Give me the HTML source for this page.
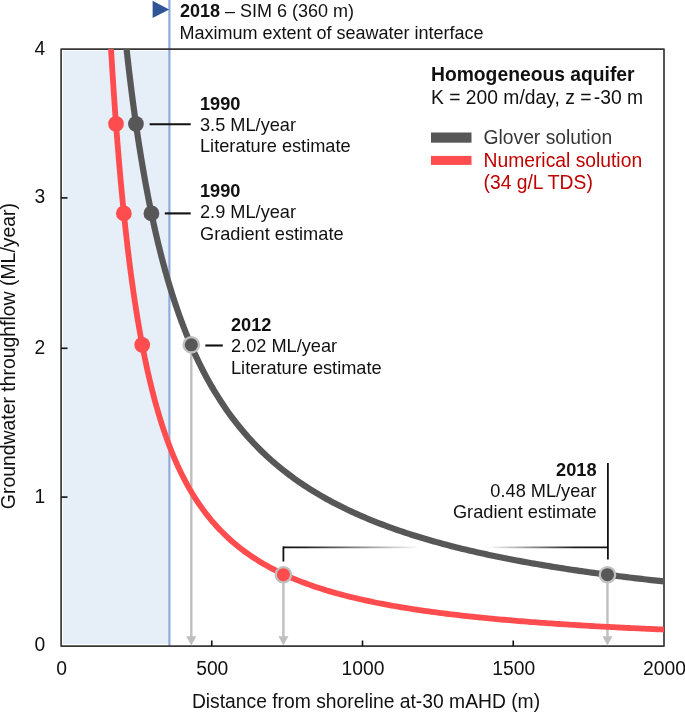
<!DOCTYPE html>
<html><head><meta charset="utf-8"><style>html,body{margin:0;padding:0;background:#fff;overflow:hidden}svg{display:block;will-change:transform}</style></head>
<body><svg width="685" height="712" viewBox="0 0 685 712"><defs><clipPath id="pc"><rect x="61" y="49" width="603" height="597"/></clipPath><linearGradient id="bg" x1="283.4" y1="0" x2="607.9" y2="0" gradientUnits="userSpaceOnUse"><stop offset="0" stop-color="#111" stop-opacity="1"/><stop offset="0.06" stop-color="#111" stop-opacity="0.95"/><stop offset="0.42" stop-color="#111" stop-opacity="0"/><stop offset="0.63" stop-color="#111" stop-opacity="0"/><stop offset="0.9" stop-color="#111" stop-opacity="0.95"/><stop offset="1" stop-color="#111" stop-opacity="1"/></linearGradient></defs><rect width="685" height="712" fill="#fff"/><rect x="63" y="51" width="105.5" height="593" fill="#E6EEF8"/><line x1="169.4" y1="0" x2="169.4" y2="646" stroke="#8EA9DB" stroke-width="2.2"/><polygon points="152.6,0.8 152.6,18.1 169.2,9.45" fill="#2F5597"/><rect x="61.1" y="49.05" width="602.9" height="597" fill="none" stroke="#383838" stroke-width="1.7" stroke-linejoin="round"/><line x1="61" y1="497.10" x2="67.5" y2="497.10" stroke="#111" stroke-width="1.6"/><line x1="61" y1="348.30" x2="67.5" y2="348.30" stroke="#111" stroke-width="1.6"/><line x1="61" y1="197.90" x2="67.5" y2="197.90" stroke="#111" stroke-width="1.6"/><line x1="211.75" y1="646" x2="211.75" y2="640.5" stroke="#111" stroke-width="1.6"/><line x1="362.50" y1="646" x2="362.50" y2="640.5" stroke="#111" stroke-width="1.6"/><line x1="513.25" y1="646" x2="513.25" y2="640.5" stroke="#111" stroke-width="1.6"/><line x1="283.4" y1="547.3" x2="607.9" y2="547.3" stroke="url(#bg)" stroke-width="1.8"/><line x1="283.4" y1="546.4" x2="283.4" y2="561.5" stroke="#111" stroke-width="1.8"/><line x1="607.9" y1="463" x2="607.9" y2="559.5" stroke="#111" stroke-width="1.8"/><line x1="191.30" y1="350.00" x2="191.30" y2="637" stroke="#BFBFBF" stroke-width="2.4"/><polygon points="186.30,636.2 196.30,636.2 191.30,645.6" fill="#BFBFBF"/><line x1="283.40" y1="580.00" x2="283.40" y2="637" stroke="#BFBFBF" stroke-width="2.4"/><polygon points="278.40,636.2 288.40,636.2 283.40,645.6" fill="#BFBFBF"/><line x1="607.47" y1="580.00" x2="607.47" y2="637" stroke="#BFBFBF" stroke-width="2.4"/><polygon points="602.47,636.2 612.47,636.2 607.47,645.6" fill="#BFBFBF"/><g clip-path="url(#pc)" fill="none" stroke-linejoin="round"><path d="M122.00,4.41 L122.30,7.55 L122.60,10.65 L122.90,13.73 L123.20,16.77 L123.50,19.79 L123.80,22.78 L124.10,25.74 L124.40,28.67 L124.70,31.58 L125.00,34.45 L125.30,37.30 L125.60,40.13 L125.89,42.93 L126.19,45.70 L126.49,48.45 L126.79,51.17 L127.09,53.86 L127.39,56.54 L127.69,59.19 L127.99,61.81 L128.29,64.41 L128.59,66.99 L128.89,69.55 L129.19,72.08 L129.49,74.59 L129.79,77.08 L130.09,79.55 L130.39,82.00 L130.69,84.42 L130.99,86.83 L131.29,89.21 L131.58,91.58 L131.88,93.92 L132.18,96.25 L132.48,98.55 L132.78,100.84 L133.08,103.10 L133.38,105.35 L133.68,107.58 L133.98,109.79 L134.28,111.98 L134.58,114.16 L134.88,116.32 L135.18,118.46 L135.48,120.58 L135.78,122.69 L136.08,124.78 L136.38,126.85 L136.68,128.90 L136.98,130.94 L137.28,132.97 L137.57,134.98 L137.87,136.97 L138.17,138.95 L138.47,140.91 L138.77,142.85 L139.07,144.79 L139.37,146.70 L139.67,148.60 L139.97,150.49 L140.27,152.37 L140.57,154.23 L140.87,156.07 L141.17,157.90 L141.47,159.72 L141.77,161.53 L142.07,163.32 L142.37,165.10 L142.67,166.86 L142.97,168.61 L143.27,170.35 L143.56,172.08 L143.86,173.79 L144.16,175.49 L144.46,177.18 L144.76,178.86 L145.06,180.53 L145.36,182.18 L145.66,183.82 L145.96,185.45 L146.26,187.07 L146.56,188.68 L146.86,190.28 L147.16,191.86 L147.46,193.44 L147.76,195.00 L148.06,196.55 L148.36,198.10 L148.66,199.63 L148.96,201.15 L149.25,202.66 L149.55,204.16 L149.85,205.65 L150.15,207.13 L150.45,208.60 L150.75,210.06 L151.05,211.52 L151.35,212.96 L151.65,214.39 L151.95,215.81 L152.25,217.23 L152.55,218.63 L152.85,220.02 L153.15,221.41 L153.45,222.79 L153.75,224.15 L154.05,225.51 L154.35,226.86 L154.65,228.21 L154.95,229.54 L155.24,230.86 L155.54,232.18 L155.84,233.49 L156.14,234.79 L156.44,236.08 L156.74,237.36 L157.04,238.64 L157.34,239.91 L157.64,241.17 L157.94,242.42 L158.24,243.66 L158.54,244.90 L158.84,246.13 L159.14,247.35 L159.44,248.56 L159.74,249.77 L160.04,250.97 L160.34,252.16 L160.64,253.35 L160.94,254.52 L161.23,255.70 L161.53,256.86 L161.83,258.02 L162.13,259.17 L162.43,260.31 L162.73,261.45 L163.03,262.58 L163.33,263.70 L163.63,264.82 L163.93,265.93 L164.23,267.03 L164.53,268.13 L164.83,269.22 L165.13,270.30 L165.43,271.38 L165.73,272.45 L166.03,273.52 L166.33,274.58 L166.63,275.64 L166.92,276.68 L167.22,277.73 L167.52,278.76 L167.82,279.79 L168.12,280.82 L168.42,281.84 L168.72,282.85 L169.02,283.86 L169.32,284.86 L169.62,285.86 L169.92,286.85 L170.22,287.84 L170.52,288.82 L170.82,289.79 L171.12,290.76 L171.42,291.73 L171.72,292.69 L172.02,293.64 L172.32,294.59 L172.62,295.53 L172.91,296.47 L173.21,297.41 L173.51,298.33 L173.81,299.26 L174.11,300.18 L174.41,301.09 L174.71,302.00 L175.01,302.91 L175.31,303.81 L175.61,304.70 L175.91,305.59 L176.21,306.48 L176.51,307.36 L176.81,308.24 L177.11,309.11 L177.41,309.98 L177.71,310.84 L178.01,311.70 L178.31,312.55 L178.61,313.40 L178.90,314.25 L179.20,315.09 L179.50,315.93 L179.80,316.76 L180.10,317.59 L180.40,318.41 L180.70,319.24 L181.00,320.05 L181.30,320.86 L181.60,321.67 L181.60,321.67 L184.10,328.27 L186.60,334.60 L189.10,340.68 L191.60,346.54 L194.10,352.17 L196.60,357.59 L199.10,362.82 L201.60,367.86 L204.10,372.73 L206.60,377.43 L209.10,381.97 L211.60,386.36 L214.10,390.60 L216.60,394.71 L219.10,398.69 L221.60,402.55 L224.10,406.29 L226.60,409.91 L229.10,413.43 L231.60,416.84 L234.10,420.16 L236.60,423.38 L239.10,426.51 L241.60,429.55 L244.10,432.51 L246.60,435.39 L249.10,438.20 L251.60,440.93 L254.10,443.59 L256.60,446.18 L259.10,448.71 L261.60,451.17 L264.10,453.57 L266.60,455.92 L269.10,458.21 L271.60,460.44 L274.10,462.62 L276.60,464.75 L279.10,466.84 L281.59,468.87 L284.09,470.86 L286.59,472.80 L289.09,474.71 L291.59,476.57 L294.09,478.39 L296.59,480.17 L299.09,481.92 L301.59,483.63 L304.09,485.30 L306.59,486.94 L309.09,488.55 L311.59,490.12 L314.09,491.67 L316.59,493.18 L319.09,494.66 L321.59,496.12 L324.09,497.55 L326.59,498.95 L329.09,500.32 L331.59,501.67 L334.09,503.00 L336.59,504.30 L339.09,505.58 L341.59,506.83 L344.09,508.06 L346.59,509.27 L349.09,510.46 L351.59,511.63 L354.09,512.78 L356.59,513.91 L359.09,515.02 L361.59,516.12 L364.09,517.19 L366.59,518.25 L369.09,519.29 L371.59,520.31 L374.09,521.32 L376.59,522.31 L379.09,523.28 L381.59,524.24 L384.09,525.19 L386.59,526.12 L389.09,527.04 L391.59,527.94 L394.09,528.83 L396.59,529.70 L399.09,530.57 L401.59,531.42 L404.09,532.25 L406.59,533.08 L409.09,533.89 L411.59,534.70 L414.09,535.49 L416.59,536.27 L419.09,537.04 L421.59,537.79 L424.09,538.54 L426.59,539.28 L429.09,540.01 L431.59,540.72 L434.09,541.43 L436.59,542.13 L439.09,542.82 L441.59,543.50 L444.09,544.17 L446.59,544.83 L449.09,545.49 L451.59,546.14 L454.09,546.77 L456.59,547.40 L459.09,548.02 L461.59,548.64 L464.09,549.24 L466.59,549.84 L469.09,550.43 L471.59,551.02 L474.09,551.60 L476.59,552.17 L479.09,552.73 L481.58,553.29 L484.08,553.84 L486.58,554.38 L489.08,554.92 L491.58,555.45 L494.08,555.97 L496.58,556.49 L499.08,557.01 L501.58,557.51 L504.08,558.01 L506.58,558.51 L509.08,559.00 L511.58,559.49 L514.08,559.97 L516.58,560.44 L519.08,560.91 L521.58,561.37 L524.08,561.83 L526.58,562.29 L529.08,562.73 L531.58,563.18 L534.08,563.62 L536.58,564.05 L539.08,564.48 L541.58,564.91 L544.08,565.33 L546.58,565.75 L549.08,566.16 L551.58,566.57 L554.08,566.98 L556.58,567.38 L559.08,567.77 L561.58,568.17 L564.08,568.56 L566.58,568.94 L569.08,569.32 L571.58,569.70 L574.08,570.07 L576.58,570.44 L579.08,570.81 L581.58,571.17 L584.08,571.53 L586.58,571.89 L589.08,572.24 L591.58,572.59 L594.08,572.94 L596.58,573.28 L599.08,573.62 L601.58,573.96 L604.08,574.29 L606.58,574.62 L609.08,574.95 L611.58,575.27 L614.08,575.59 L616.58,575.91 L619.08,576.23 L621.58,576.54 L624.08,576.85 L626.58,577.16 L629.08,577.46 L631.58,577.76 L634.08,578.06 L636.58,578.36 L639.08,578.65 L641.58,578.95 L644.08,579.24 L646.58,579.52 L649.08,579.81 L651.58,580.09 L654.08,580.37 L656.58,580.64 L659.08,580.92 L661.58,581.19 L664.08,581.46 L666.58,581.73 L669.08,582.00 L671.58,582.26 L674.08,582.52 L676.58,582.78 L679.07,583.04" stroke="#575757" stroke-width="6.2"/><path d="M108.53,4.41 L108.90,11.33 L109.27,18.13 L109.63,24.80 L110.00,31.36 L110.37,37.79 L110.73,44.11 L111.10,50.32 L111.47,56.43 L111.84,62.42 L112.20,68.31 L112.57,74.11 L112.94,79.80 L113.30,85.40 L113.67,90.90 L114.04,96.31 L114.41,101.64 L114.77,106.87 L115.14,112.02 L115.51,117.09 L115.87,122.07 L116.24,126.98 L116.61,131.81 L116.98,136.56 L117.34,141.24 L117.71,145.84 L118.08,150.37 L118.45,154.84 L118.81,159.23 L119.18,163.56 L119.55,167.83 L119.91,172.03 L120.28,176.16 L120.65,180.24 L121.02,184.26 L121.38,188.21 L121.75,192.11 L122.12,195.96 L122.48,199.75 L122.85,203.48 L123.22,207.16 L123.59,210.79 L123.95,214.37 L124.32,217.90 L124.69,221.38 L125.05,224.81 L125.42,228.20 L125.79,231.53 L126.16,234.83 L126.52,238.08 L126.89,241.28 L127.26,244.45 L127.62,247.57 L127.99,250.65 L128.36,253.69 L128.73,256.69 L129.09,259.65 L129.46,262.57 L129.83,265.46 L130.19,268.31 L130.56,271.12 L130.93,273.89 L131.30,276.64 L131.66,279.34 L132.03,282.02 L132.40,284.66 L132.77,287.27 L133.13,289.85 L133.50,292.39 L133.87,294.91 L134.23,297.39 L134.60,299.85 L134.97,302.27 L135.34,304.67 L135.70,307.03 L136.07,309.38 L136.44,311.69 L136.80,313.97 L137.17,316.23 L137.54,318.47 L137.91,320.67 L138.27,322.86 L138.64,325.02 L139.01,327.15 L139.37,329.26 L139.74,331.34 L140.11,333.41 L140.48,335.45 L140.84,337.46 L141.21,339.46 L141.58,341.43 L141.94,343.38 L142.31,345.31 L142.68,347.22 L143.05,349.11 L143.41,350.98 L143.78,352.83 L144.15,354.66 L144.51,356.47 L144.88,358.26 L145.25,360.03 L145.62,361.78 L145.98,363.52 L146.35,365.23 L146.72,366.93 L147.09,368.62 L147.45,370.28 L147.82,371.93 L148.19,373.56 L148.55,375.18 L148.92,376.77 L149.29,378.36 L149.66,379.92 L150.02,381.47 L150.39,383.01 L150.76,384.53 L151.12,386.04 L151.49,387.53 L151.86,389.01 L152.23,390.47 L152.59,391.92 L152.96,393.35 L153.33,394.77 L153.69,396.18 L154.06,397.57 L154.43,398.95 L154.80,400.32 L155.16,401.68 L155.53,403.02 L155.90,404.35 L156.26,405.67 L156.63,406.97 L157.00,408.27 L157.37,409.55 L157.73,410.82 L158.10,412.08 L158.47,413.32 L158.83,414.56 L159.20,415.78 L159.57,417.00 L159.94,418.20 L160.30,419.39 L160.67,420.57 L161.04,421.74 L161.41,422.90 L161.77,424.05 L162.14,425.20 L162.51,426.33 L162.87,427.45 L163.24,428.56 L163.61,429.66 L163.98,430.75 L164.34,431.83 L164.71,432.91 L165.08,433.97 L165.44,435.03 L165.81,436.07 L166.18,437.11 L166.55,438.14 L166.91,439.16 L167.28,440.17 L167.65,441.18 L168.01,442.17 L168.38,443.16 L168.75,444.14 L169.12,445.11 L169.48,446.07 L169.85,447.03 L170.22,447.98 L170.58,448.92 L170.95,449.85 L171.32,450.77 L171.69,451.69 L172.05,452.60 L172.42,453.51 L172.79,454.40 L173.15,455.29 L173.52,456.17 L173.89,457.05 L174.26,457.92 L174.62,458.78 L174.99,459.63 L175.36,460.48 L175.73,461.32 L176.09,462.16 L176.46,462.99 L176.83,463.81 L177.19,464.63 L177.56,465.44 L177.93,466.24 L178.30,467.04 L178.66,467.83 L179.03,468.62 L179.40,469.40 L179.76,470.17 L180.13,470.94 L180.50,471.70 L180.87,472.46 L181.23,473.21 L181.60,473.96 L181.60,473.96 L184.10,478.90 L186.60,483.60 L189.10,488.08 L191.60,492.36 L194.10,496.45 L196.60,500.35 L199.10,504.09 L201.60,507.66 L204.10,511.09 L206.60,514.37 L209.10,517.52 L211.60,520.55 L214.10,523.46 L216.60,526.25 L219.10,528.94 L221.60,531.53 L224.10,534.03 L226.60,536.43 L229.10,538.75 L231.60,540.99 L234.10,543.15 L236.60,545.23 L239.10,547.25 L241.60,549.20 L244.10,551.08 L246.60,552.90 L249.10,554.67 L251.60,556.38 L254.10,558.04 L256.60,559.64 L259.10,561.20 L261.60,562.71 L264.10,564.18 L266.60,565.60 L269.10,566.98 L271.60,568.32 L274.10,569.63 L276.60,570.90 L279.10,572.13 L281.59,573.33 L284.09,574.50 L286.59,575.64 L289.09,576.74 L291.59,577.82 L294.09,578.87 L296.59,579.90 L299.09,580.89 L301.59,581.87 L304.09,582.82 L306.59,583.74 L309.09,584.64 L311.59,585.53 L314.09,586.39 L316.59,587.23 L319.09,588.05 L321.59,588.85 L324.09,589.63 L326.59,590.40 L329.09,591.15 L331.59,591.88 L334.09,592.60 L336.59,593.30 L339.09,593.98 L341.59,594.65 L344.09,595.31 L346.59,595.95 L349.09,596.58 L351.59,597.20 L354.09,597.80 L356.59,598.40 L359.09,598.97 L361.59,599.54 L364.09,600.10 L366.59,600.65 L369.09,601.18 L371.59,601.70 L374.09,602.22 L376.59,602.72 L379.09,603.22 L381.59,603.71 L384.09,604.18 L386.59,604.65 L389.09,605.11 L391.59,605.56 L394.09,606.01 L396.59,606.44 L399.09,606.87 L401.59,607.29 L404.09,607.70 L406.59,608.11 L409.09,608.51 L411.59,608.90 L414.09,609.28 L416.59,609.66 L419.09,610.03 L421.59,610.40 L424.09,610.76 L426.59,611.11 L429.09,611.46 L431.59,611.80 L434.09,612.14 L436.59,612.47 L439.09,612.80 L441.59,613.12 L444.09,613.44 L446.59,613.75 L449.09,614.05 L451.59,614.35 L454.09,614.65 L456.59,614.94 L459.09,615.23 L461.59,615.52 L464.09,615.80 L466.59,616.07 L469.09,616.34 L471.59,616.61 L474.09,616.87 L476.59,617.13 L479.09,617.39 L481.58,617.64 L484.08,617.89 L486.58,618.14 L489.08,618.38 L491.58,618.62 L494.08,618.85 L496.58,619.08 L499.08,619.31 L501.58,619.54 L504.08,619.76 L506.58,619.98 L509.08,620.20 L511.58,620.41 L514.08,620.62 L516.58,620.83 L519.08,621.04 L521.58,621.24 L524.08,621.44 L526.58,621.64 L529.08,621.83 L531.58,622.02 L534.08,622.21 L536.58,622.40 L539.08,622.59 L541.58,622.77 L544.08,622.95 L546.58,623.13 L549.08,623.30 L551.58,623.48 L554.08,623.65 L556.58,623.82 L559.08,623.99 L561.58,624.15 L564.08,624.32 L566.58,624.48 L569.08,624.64 L571.58,624.80 L574.08,624.95 L576.58,625.11 L579.08,625.26 L581.58,625.41 L584.08,625.56 L586.58,625.71 L589.08,625.85 L591.58,626.00 L594.08,626.14 L596.58,626.28 L599.08,626.42 L601.58,626.56 L604.08,626.69 L606.58,626.83 L609.08,626.96 L611.58,627.09 L614.08,627.22 L616.58,627.35 L619.08,627.48 L621.58,627.61 L624.08,627.73 L626.58,627.86 L629.08,627.98 L631.58,628.10 L634.08,628.22 L636.58,628.34 L639.08,628.45 L641.58,628.57 L644.08,628.68 L646.58,628.80 L649.08,628.91 L651.58,629.02 L654.08,629.13 L656.58,629.24 L659.08,629.35 L661.58,629.46 L664.08,629.56 L666.58,629.67 L669.08,629.77 L671.58,629.87 L674.08,629.97 L676.58,630.07 L679.07,630.17" stroke="#FF4D4F" stroke-width="5.8"/></g><line x1="149.6" y1="124.20" x2="190.7" y2="124.20" stroke="#111" stroke-width="2.1"/><line x1="164.8" y1="213.40" x2="190.7" y2="213.40" stroke="#111" stroke-width="2.1"/><line x1="205.3" y1="345.50" x2="222.8" y2="345.50" stroke="#111" stroke-width="2.1"/><circle cx="116.01" cy="123.85" r="7.9" fill="#FF4D4F"/><circle cx="123.86" cy="213.43" r="7.9" fill="#FF4D4F"/><circle cx="142.22" cy="344.81" r="7.9" fill="#FF4D4F"/><circle cx="135.94" cy="123.85" r="7.9" fill="#575757"/><circle cx="151.45" cy="213.43" r="7.9" fill="#575757"/><circle cx="191.30" cy="344.81" r="7.7" fill="#575757" stroke="#C0C0C0" stroke-width="2.3"/><circle cx="283.4" cy="574.74" r="7.7" fill="#FF4D4F" stroke="#C0C0C0" stroke-width="2.3"/><circle cx="607.47" cy="574.74" r="7.7" fill="#575757" stroke="#C0C0C0" stroke-width="2.3"/><g font-family="Liberation Sans, sans-serif" fill="#111"><text x="180" y="17.2" font-size="18" ><tspan font-weight="bold">2018</tspan> – SIM 6 (360 m)</text><text x="179.5" y="38.6" font-size="18" >Maximum extent of seawater interface</text><text x="200" y="109.6" font-size="18.2"  font-weight="bold">1990</text><text x="200" y="130.6" font-size="18.2" >3.5 ML/year</text><text x="200" y="152.2" font-size="18.2" >Literature estimate</text><text x="200" y="197.1" font-size="18.2"  font-weight="bold">1990</text><text x="200" y="218.4" font-size="18.2" >2.9 ML/year</text><text x="200" y="240" font-size="18.2" >Gradient estimate</text><text x="231" y="330.8" font-size="18.2"  font-weight="bold">2012</text><text x="231" y="352.2" font-size="18.2" >2.02 ML/year</text><text x="231" y="373.6" font-size="18.2" >Literature estimate</text><text x="596.5" y="476" font-size="18.2"  font-weight="bold" text-anchor="end">2018</text><text x="596.5" y="497.2" font-size="18.2"  text-anchor="end">0.48 ML/year</text><text x="596.5" y="518.3" font-size="18.2"  text-anchor="end">Gradient estimate</text><text x="431" y="80.6" font-size="19.3"  font-weight="bold">Homogeneous aquifer</text><text x="431" y="103.8" font-size="19.3" >K = 200 m/day, z =<tspan dx="2.4">-30 m</tspan></text><rect x="431" y="132.5" width="40.5" height="10.2" fill="#575757"/><rect x="431" y="155.9" width="40.5" height="9" fill="#FF4D4F"/><text x="483.5" y="144.3" font-size="19.3"  fill="#363636">Glover solution</text><text x="483.5" y="167" font-size="19.3"  fill="#C00000">Numerical solution</text><text x="483.5" y="189.3" font-size="19.3"  fill="#C00000">(34 g/L TDS)</text><text x="45.2" y="651.4" font-size="19.3"  text-anchor="end">0</text><text x="45.2" y="502.6" font-size="19.3"  text-anchor="end">1</text><text x="45.2" y="353.5" font-size="19.3"  text-anchor="end">2</text><text x="45.2" y="203.4" font-size="19.3"  text-anchor="end">3</text><text x="45.2" y="54.5" font-size="19.3"  text-anchor="end">4</text><text x="61.50" y="675.2" font-size="19.3"  text-anchor="middle">0</text><text x="212.25" y="675.2" font-size="19.3"  text-anchor="middle">500</text><text x="363.00" y="675.2" font-size="19.3"  text-anchor="middle">1000</text><text x="513.75" y="675.2" font-size="19.3"  text-anchor="middle">1500</text><text x="664.50" y="675.2" font-size="19.3"  text-anchor="middle">2000</text><text x="366" y="707.9" font-size="19.3"  text-anchor="middle">Distance from shoreline at-30 mAHD (m)</text><text transform="translate(14.6,356.1) rotate(-90)" font-size="19.4" text-anchor="middle">Groundwater throughflow (ML/year)</text></g></svg></body></html>
